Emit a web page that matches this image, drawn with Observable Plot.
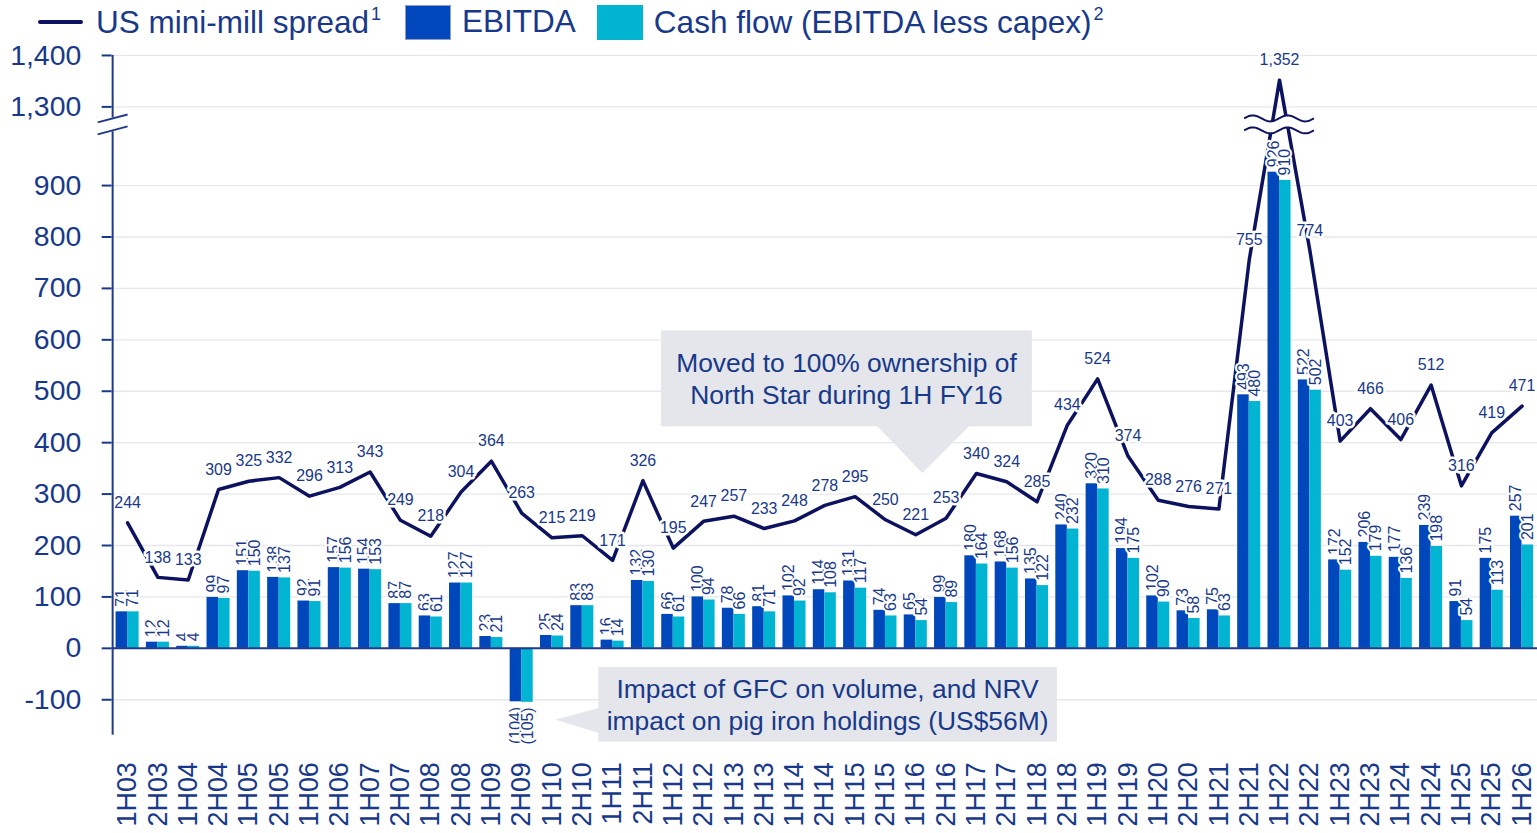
<!DOCTYPE html>
<html><head><meta charset="utf-8">
<script src="https://cdn.jsdelivr.net/npm/d3@7"></script>
<script src="https://cdn.jsdelivr.net/npm/@observablehq/plot@0.6"></script>
<style>
html,body{margin:0;padding:0;background:#fff;overflow:hidden;width:1537px;height:833px}
body{font-family:"Liberation Sans",Arial,sans-serif;color:#18398a}
#legend{height:44px;display:flex;align-items:center;padding-left:38px;font-size:31.5px;white-space:nowrap;line-height:1}
#legend sup{font-size:18px;vertical-align:13px;margin-left:2px}
.sw-line{display:inline-block;width:45px;height:4px;background:#0c125f;margin-right:13px;border-radius:2px}
.sw-box{display:inline-block;width:46px;height:35px;margin-right:11px;box-sizing:border-box}
#chart{position:relative}
</style></head><body>
<div id="legend">
  <span class="sw-line"></span><span>US mini-mill spread<sup>1</sup></span>
  <span class="sw-box" style="background:#0047bb;border:1px solid #8f9dc9;margin-left:24px"></span><span>EBITDA</span>
  <span class="sw-box" style="background:#00b4d2;margin-left:21px"></span><span>Cash flow (EBITDA less capex)<sup>2</sup></span>
</div>
<div id="chart"></div>
<script>
const categories = ["1H03","2H03","1H04","2H04","1H05","2H05","1H06","2H06","1H07","2H07","1H08","2H08","1H09","2H09","1H10","2H10","1H11","2H11","1H12","2H12","1H13","2H13","1H14","2H14","1H15","2H15","1H16","2H16","1H17","2H17","1H18","2H18","1H19","2H19","1H20","2H20","1H21","2H21","1H22","2H22","1H23","2H23","1H24","2H24","1H25","2H25","1H26"];
const spread = [244,138,133,309,325,332,296,313,343,249,218,304,364,263,215,219,171,326,195,247,257,233,248,278,295,250,221,253,340,324,285,434,524,374,288,276,271,755,1352,774,403,466,406,512,316,419,471];
const ebitda = [71,12,4,99,151,138,92,157,154,87,63,127,23,-104,25,83,16,132,66,100,78,81,102,114,131,74,65,99,180,168,135,240,320,194,102,73,75,493,926,522,172,206,177,239,91,175,257];
const cashFlow = [71,12,4,97,150,137,91,156,153,87,61,127,21,-105,24,83,14,130,61,94,66,71,92,108,117,63,54,89,164,156,122,232,310,175,90,58,63,480,910,502,152,179,136,198,54,113,201];
const yTickValues = [-100,0,100,200,300,400,500,600,700,800,900,1300,1400];
const annotations = [
  {lines:["Moved to 100% ownership of","North Star during 1H FY16"], cat:"1H16", value:340, kind:"down"},
  {lines:["Impact of GFC on volume, and NRV","impact on pig iron holdings (US$56M)"], cat:"1H10", value:-140, kind:"left"}
];
// axis break: values above the break are shifted down by BREAK_SHIFT
const BREAK_POS = 1018, BREAK_SHIFT = 247;
const yT = v => v > BREAK_POS + BREAK_SHIFT ? v - BREAK_SHIFT : v;

const textColor = "#18398a", lineColor = "#0c125f", ebitdaColor = "#0047bb", cashColor = "#00b4d2";
const W = 1542, H = 789, ML = 112, MR = 0, MT = 11, MB = 96;
const padInner = 0.24, padOuter = 0.13;
const n = categories.length;
const stepPx = (W - ML - MR) / (n - padInner + 2 * padOuter);
const bw = stepPx * (1 - padInner);
const half = bw / 2;

const rows = categories.map((c, i) => ({cat: c, spread: spread[i], ebitda: ebitda[i], cash: cashFlow[i]}));
const comma = d3.format(",");
const fmt = v => v < 0 ? "(" + comma(-v) + ")" : comma(v);
const tickLabel = new Map(yTickValues.map(v => [yT(v), v < 0 ? "-" + comma(-v) : comma(v)]));

const barLabel = (key, dx, pos) => Plot.text(rows.filter(d => pos ? d[key] >= 0 : d[key] < 0), {
  x: "cat", y: key, text: d => fmt(d[key]), rotate: -90,
  textAnchor: pos ? "start" : "end", lineAnchor: "middle",
  dx, dy: pos ? -5 : 5, fill: textColor, stroke: "white", strokeWidth: 4, fontSize: 16
});

const chart = Plot.plot({
  width: W, height: H, marginLeft: ML, marginRight: MR, marginTop: MT, marginBottom: MB,
  x: {type: "band", domain: categories, paddingInner: padInner, paddingOuter: padOuter, round: false},
  y: {domain: [-169, 1153]},
  style: {fontFamily: '"Liberation Sans", Arial, sans-serif', background: "transparent", overflow: "visible"},
  marks: [
    Plot.ruleY(yTickValues.map(yT), {stroke: "#e6e7ec", strokeWidth: 1.3}),
    Plot.barY(rows, {x: "cat", y: "ebitda", fill: ebitdaColor, insetRight: half}),
    Plot.barY(rows, {x: "cat", y: "cash", fill: cashColor, insetLeft: half}),
    Plot.ruleY([0], {stroke: "#1f3a8a", strokeWidth: 2}),
    Plot.line(rows, {x: "cat", y: d => yT(d.spread), stroke: lineColor, strokeWidth: 3.5}),
    barLabel("ebitda", -half / 2, true),
    barLabel("cash", half / 2, true),
    barLabel("ebitda", -half / 2, false),
    barLabel("cash", half / 2, false),
    Plot.text(rows, {x: "cat", y: d => yT(d.spread), text: d => fmt(d.spread), dy: -20,
      fill: textColor, stroke: "white", strokeWidth: 5, fontSize: 16}),
    Plot.axisY(yTickValues.map(yT), {tickFormat: d => tickLabel.get(d), tickSize: 10, tickPadding: 21,
      fontSize: 28.5, color: textColor, strokeWidth: 2, label: null}),
    Plot.axisX({tickRotate: -90, tickSize: 0, tickPadding: 27, fontSize: 27, color: textColor, label: null})
  ]
});
document.getElementById("chart").appendChild(chart);

// overlays drawn from the chart's own scales
const xs = chart.scale("x"), ys = chart.scale("y");
const svgSel = d3.select(chart.tagName.toLowerCase() === "svg" ? chart : chart.querySelector("svg"));
const g = svgSel.append("g");
const axX = ML + 1;
const yb = ys.apply(BREAK_POS);
// y axis line with break
g.append("line").attr("x1", axX).attr("x2", axX).attr("y1", ys.apply(1153)).attr("y2", yb - 7)
  .attr("stroke", "#1f3a8a").attr("stroke-width", 2);
g.append("line").attr("x1", axX).attr("x2", axX).attr("y1", yb + 7).attr("y2", ys.apply(-169))
  .attr("stroke", "#1f3a8a").attr("stroke-width", 2);
for (const d of [-6, 6]) {
  g.append("line").attr("x1", axX - 15).attr("x2", axX + 15).attr("y1", yb + d + 4).attr("y2", yb + d - 4)
    .attr("stroke", "#1f3a8a").attr("stroke-width", 2);
}
// break on the spread line at its peak
const peak = rows.find(d => d.spread === d3.max(spread));
const xc = xs.apply(peak.cat) + xs.bandwidth / 2;
const wave = off => d3.range(-35, 35.5, 1).map(t => [xc + t, yb + off - 3 * Math.sin((t + 35) / 35 * 2 * Math.PI)]);
const waveTop = wave(-6), waveBot = wave(6);
g.append("path").attr("d", "M" + waveTop.map(p => p.join(",")).join("L") + "L" + waveBot.slice().reverse().map(p => p.join(",")).join("L") + "Z")
  .attr("fill", "white");
for (const w of [waveTop, waveBot]) g.append("path").attr("d", "M" + w.map(p => p.join(",")).join("L"))
  .attr("fill", "none").attr("stroke", lineColor).attr("stroke-width", 2);

// callouts
for (const a of annotations) {
  const tx = xs.apply(a.cat) + xs.bandwidth / 2 + (a.kind === "down" ? 7 : 4);
  const ty = ys.apply(a.value);
  let path, cx, cy;
  if (a.kind === "down") {
    const L = tx - 262, R = tx + 110, T = ty - 143, B = ty - 47;
    path = `M${L},${T}H${R}V${B}H${tx + 47}L${tx},${ty}L${tx - 45},${B}H${L}Z`;
    cx = (L + R) / 2; cy = (T + B) / 2;
  } else {
    const L = tx + 43, R = tx + 503, T = ty - 53, B = ty + 22;
    path = `M${L},${T}H${R}V${B}H${L}V${ty + 13}L${tx},${ty}L${L},${ty - 12}Z`;
    cx = (L + R) / 2; cy = (T + B) / 2;
  }
  g.append("path").attr("d", path).attr("fill", "#e4e6eb");
  a.lines.forEach((t, i) => {
    g.append("text").attr("x", cx).attr("y", cy + (i - 0.5) * 32).attr("dy", "0.35em")
      .attr("text-anchor", "middle").attr("font-size", 26.5).attr("fill", textColor)
      .attr("font-family", '"Liberation Sans", Arial, sans-serif').text(t);
  });
}
</script>
</body></html>
